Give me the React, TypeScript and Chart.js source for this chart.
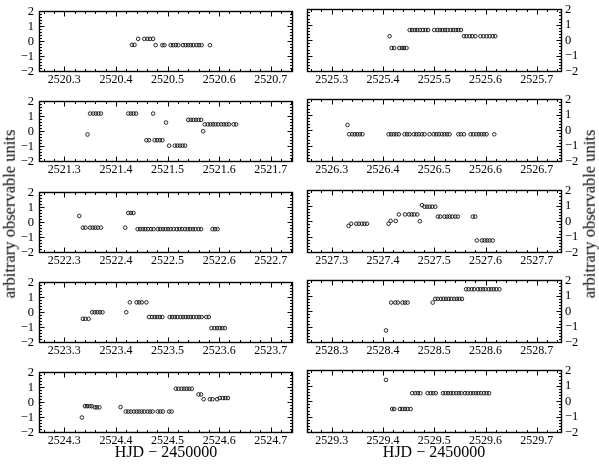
import React, { useEffect, useRef } from 'react';
import { Chart, registerables } from 'chart.js';

Chart.register(...registerables);

// ---------- data (HJD - 2450000, arbitrary units) ----------
const days = [2520, 2521, 2522, 2523, 2524, 2525, 2526, 2527, 2528, 2529];
const xTickOffsets = [0.3, 0.4, 0.5, 0.6, 0.7];
const yTickValues = [-2, -1, 0, 1, 2];
const xTitle = 'HJD \u2212 2450000';
const yTitle = 'arbitrary observable units';

const d2520X = [2520.431, 2520.436, 2520.443, 2520.455, 2520.461, 2520.466, 2520.472, 2520.477, 2520.490, 2520.494, 2520.506, 2520.511, 2520.516, 2520.521, 2520.530, 2520.535, 2520.540, 2520.545, 2520.550, 2520.556, 2520.561, 2520.566, 2520.582];
const d2520Y = [-0.24, -0.24, 0.16, 0.16, 0.16, 0.16, 0.16, -0.26, -0.26, -0.26, -0.26, -0.26, -0.26, -0.26, -0.26, -0.26, -0.26, -0.26, -0.26, -0.26, -0.26, -0.26, -0.26];

const d2521X = [2521.345, 2521.350, 2521.356, 2521.361, 2521.366, 2521.371, 2521.424, 2521.429, 2521.434, 2521.439, 2521.459, 2521.464, 2521.472, 2521.475, 2521.480, 2521.485, 2521.490, 2521.497, 2521.503, 2521.514, 2521.519, 2521.524, 2521.529, 2521.534, 2521.540, 2521.545, 2521.550, 2521.555, 2521.560, 2521.565, 2521.569, 2521.572, 2521.578, 2521.583, 2521.588, 2521.593, 2521.598, 2521.604, 2521.609, 2521.614, 2521.619, 2521.628, 2521.633];
const d2521Y = [-0.22, 1.18, 1.18, 1.18, 1.18, 1.18, 1.18, 1.18, 1.18, 1.18, -0.6, -0.6, 1.18, -0.6, -0.6, -0.6, -0.6, 0.58, -0.96, -0.96, -0.96, -0.96, -0.96, -0.96, 0.76, 0.76, 0.76, 0.76, 0.76, 0.76, 0.0, 0.46, 0.46, 0.46, 0.46, 0.46, 0.46, 0.46, 0.46, 0.46, 0.46, 0.46, 0.46];

const d2522X = [2522.329, 2522.336, 2522.341, 2522.350, 2522.355, 2522.360, 2522.365, 2522.371, 2522.418, 2522.424, 2522.429, 2522.434, 2522.442, 2522.447, 2522.452, 2522.457, 2522.462, 2522.468, 2522.473, 2522.481, 2522.486, 2522.491, 2522.496, 2522.501, 2522.506, 2522.512, 2522.518, 2522.523, 2522.528, 2522.534, 2522.539, 2522.544, 2522.549, 2522.554, 2522.560, 2522.565, 2522.587, 2522.592, 2522.597];
const d2522Y = [0.42, -0.36, -0.36, -0.36, -0.36, -0.36, -0.36, -0.36, -0.36, 0.62, 0.62, 0.62, -0.46, -0.46, -0.46, -0.46, -0.46, -0.46, -0.46, -0.46, -0.46, -0.46, -0.46, -0.46, -0.46, -0.46, -0.46, -0.46, -0.46, -0.46, -0.46, -0.46, -0.46, -0.46, -0.46, -0.46, -0.46, -0.46, -0.46];

const d2523X = [2523.336, 2523.341, 2523.347, 2523.354, 2523.359, 2523.364, 2523.369, 2523.374, 2523.420, 2523.427, 2523.440, 2523.445, 2523.450, 2523.459, 2523.464, 2523.470, 2523.475, 2523.480, 2523.485, 2523.490, 2523.504, 2523.509, 2523.514, 2523.519, 2523.525, 2523.530, 2523.535, 2523.540, 2523.545, 2523.550, 2523.556, 2523.561, 2523.566, 2523.575, 2523.580, 2523.585, 2523.591, 2523.596, 2523.601, 2523.606, 2523.611];
const d2523Y = [-0.44, -0.44, -0.44, 0, 0, 0, 0, 0, 0, 0.66, 0.66, 0.66, 0.66, 0.66, -0.32, -0.32, -0.32, -0.32, -0.32, -0.32, -0.32, -0.32, -0.32, -0.32, -0.32, -0.32, -0.32, -0.32, -0.32, -0.32, -0.32, -0.32, -0.32, -0.32, -0.32, -1.06, -1.06, -1.06, -1.06, -1.06, -1.06];

const d2524X = [2524.334, 2524.340, 2524.344, 2524.349, 2524.353, 2524.359, 2524.363, 2524.368, 2524.409, 2524.419, 2524.424, 2524.429, 2524.435, 2524.440, 2524.445, 2524.450, 2524.455, 2524.461, 2524.466, 2524.471, 2524.481, 2524.486, 2524.491, 2524.503, 2524.508, 2524.516, 2524.521, 2524.527, 2524.532, 2524.537, 2524.542, 2524.547, 2524.560, 2524.565, 2524.570, 2524.582, 2524.587, 2524.596, 2524.601, 2524.607, 2524.612, 2524.617];
const d2524Y = [-1.02, -0.26, -0.26, -0.26, -0.26, -0.34, -0.34, -0.34, -0.32, -0.62, -0.62, -0.62, -0.62, -0.62, -0.62, -0.62, -0.62, -0.62, -0.62, -0.62, -0.62, -0.62, -0.62, -0.62, -0.62, 0.9, 0.9, 0.9, 0.9, 0.9, 0.9, 0.9, 0.52, 0.52, 0.2, 0.2, 0.2, 0.2, 0.28, 0.28, 0.28, 0.28];

const d2525X = [2525.413, 2525.417, 2525.422, 2525.432, 2525.437, 2525.441, 2525.446, 2525.452, 2525.457, 2525.462, 2525.467, 2525.472, 2525.478, 2525.483, 2525.488, 2525.500, 2525.506, 2525.511, 2525.516, 2525.521, 2525.526, 2525.532, 2525.537, 2525.542, 2525.547, 2525.552, 2525.558, 2525.563, 2525.569, 2525.574, 2525.580, 2525.590, 2525.596, 2525.602, 2525.608, 2525.614, 2525.619];
const d2525Y = [0.26, -0.5, -0.5, -0.5, -0.5, -0.5, -0.5, 0.66, 0.66, 0.66, 0.66, 0.66, 0.66, 0.66, 0.66, 0.66, 0.66, 0.66, 0.66, 0.66, 0.66, 0.66, 0.66, 0.66, 0.66, 0.66, 0.26, 0.26, 0.26, 0.26, 0.26, 0.26, 0.26, 0.26, 0.26, 0.26, 0.26];

const d2526X = [2526.331, 2526.334, 2526.340, 2526.345, 2526.350, 2526.355, 2526.360, 2526.411, 2526.416, 2526.421, 2526.426, 2526.431, 2526.442, 2526.447, 2526.452, 2526.460, 2526.465, 2526.470, 2526.476, 2526.481, 2526.491, 2526.499, 2526.504, 2526.509, 2526.515, 2526.520, 2526.525, 2526.530, 2526.547, 2526.552, 2526.558, 2526.571, 2526.576, 2526.582, 2526.587, 2526.592, 2526.597, 2526.602, 2526.617];
const d2526Y = [0.34, -0.26, -0.26, -0.26, -0.26, -0.26, -0.26, -0.26, -0.26, -0.26, -0.26, -0.26, -0.26, -0.26, -0.26, -0.26, -0.26, -0.26, -0.26, -0.26, -0.26, -0.26, -0.26, -0.26, -0.26, -0.26, -0.26, -0.26, -0.26, -0.26, -0.26, -0.26, -0.26, -0.26, -0.26, -0.26, -0.26, -0.26, -0.26];

const d2527X = [2527.333, 2527.338, 2527.348, 2527.353, 2527.359, 2527.364, 2527.369, 2527.411, 2527.415, 2527.425, 2527.431, 2527.443, 2527.451, 2527.456, 2527.461, 2527.467, 2527.472, 2527.476, 2527.481, 2527.486, 2527.491, 2527.496, 2527.502, 2527.507, 2527.512, 2527.520, 2527.525, 2527.530, 2527.535, 2527.541, 2527.546, 2527.575, 2527.580, 2527.583, 2527.593, 2527.598, 2527.603, 2527.608, 2527.614];
const d2527Y = [-0.3, -0.16, -0.16, -0.16, -0.16, -0.16, -0.16, -0.16, 0.02, 0.02, 0.44, 0.44, 0.44, 0.44, 0.44, 0.44, 0.0, 1.04, 0.94, 0.94, 0.94, 0.94, 0.94, 0.3, 0.3, 0.3, 0.3, 0.3, 0.3, 0.3, 0.3, 0.3, 0.3, -1.24, -1.24, -1.24, -1.24, -1.24, -1.24];

const d2528X = [2528.406, 2528.416, 2528.424, 2528.429, 2528.438, 2528.443, 2528.448, 2528.497, 2528.502, 2528.507, 2528.513, 2528.518, 2528.523, 2528.528, 2528.533, 2528.539, 2528.544, 2528.549, 2528.554, 2528.562, 2528.567, 2528.573, 2528.578, 2528.585, 2528.590, 2528.595, 2528.600, 2528.606, 2528.611, 2528.616, 2528.621, 2528.627];
const d2528Y = [-1.24, 0.56, 0.56, 0.56, 0.56, 0.56, 0.56, 0.56, 0.8, 0.8, 0.8, 0.8, 0.8, 0.8, 0.8, 0.8, 0.8, 0.8, 0.8, 1.42, 1.42, 1.42, 1.42, 1.42, 1.42, 1.42, 1.42, 1.42, 1.42, 1.42, 1.42, 1.42];

const d2529X = [2529.406, 2529.418, 2529.422, 2529.433, 2529.438, 2529.443, 2529.448, 2529.454, 2529.457, 2529.463, 2529.468, 2529.473, 2529.487, 2529.493, 2529.498, 2529.503, 2529.517, 2529.522, 2529.527, 2529.532, 2529.537, 2529.543, 2529.548, 2529.553, 2529.560, 2529.565, 2529.571, 2529.576, 2529.581, 2529.586, 2529.591, 2529.597, 2529.602, 2529.607];
const d2529Y = [1.38, -0.5, -0.5, -0.5, -0.5, -0.5, -0.5, -0.5, 0.52, 0.52, 0.52, 0.52, 0.52, 0.52, 0.52, 0.52, 0.52, 0.52, 0.52, 0.52, 0.52, 0.52, 0.52, 0.52, 0.52, 0.52, 0.52, 0.52, 0.52, 0.52, 0.52, 0.52, 0.52, 0.52];

const seriesX = [d2520X, d2521X, d2522X, d2523X, d2524X, d2525X, d2526X, d2527X, d2528X, d2529X];
const seriesY = [d2520Y, d2521Y, d2522Y, d2523Y, d2524Y, d2525Y, d2526Y, d2527Y, d2528Y, d2529Y];

// ---------- layout ----------
const FONT = '"Liberation Serif", "Times New Roman", Times, serif';
const PANEL_TOPS = [4, 94, 184.5, 274.75, 365];
const PANEL_H = 68;
const PAD_TOP = 6;
const XAXIS_H = 16;
const CANVAS_H = PAD_TOP + PANEL_H + XAXIS_H;
// x-window (offset from day start) per column
const X_WIN = [
  [0.251, 0.743],
  [0.252, 0.749],
];

const framePlugin = {
  id: 'frameTicks',
  afterDatasetsDraw(chart: any) {
    const { ctx, chartArea: a, scales } = chart;
    const xs = scales.x;
    const ys = scales.y;
    ctx.save();
    ctx.strokeStyle = '#000';
    ctx.lineWidth = 1;
    const L = Math.round(a.left) + 0.5;
    const R = Math.round(a.right) - 0.5;
    const T = Math.round(a.top) + 0.5;
    const B = Math.round(a.bottom) - 0.5;
    ctx.beginPath();
    const k0 = Math.ceil(xs.min * 50 - 1e-6);
    const k1 = Math.floor(xs.max * 50 + 1e-6);
    for (let k = k0; k <= k1; k++) {
      const len = k % 5 === 0 ? 5 : 2.5;
      const px = Math.round(xs.getPixelForValue(k / 50)) + 0.5;
      ctx.moveTo(px, B);
      ctx.lineTo(px, B - len);
      ctx.moveTo(px, T);
      ctx.lineTo(px, T + len);
    }
    const j0 = Math.ceil(ys.min * 5 - 1e-6);
    const j1 = Math.floor(ys.max * 5 + 1e-6);
    for (let j = j0; j <= j1; j++) {
      const len = j % 5 === 0 ? 5 : 2.5;
      const py = Math.round(ys.getPixelForValue(j / 5)) + 0.5;
      ctx.moveTo(L, py);
      ctx.lineTo(L + len, py);
      ctx.moveTo(R, py);
      ctx.lineTo(R - len, py);
    }
    ctx.stroke();
    ctx.lineWidth = 1.4;
    ctx.strokeRect(L, T, R - L, B - T);
    ctx.restore();
  },
};

function fmtY(v: number) {
  return v < 0 ? '\u2212' + Math.abs(v) : String(v);
}

function Panel({ idx }: { idx: number }) {
  const ref = useRef<HTMLCanvasElement>(null);
  const col = idx < 5 ? 0 : 1;
  const row = idx % 5;
  const day = days[idx];
  const left = col === 0 ? 0 : 300;
  const width = col === 0 ? 300 : 299;
  const top = Math.round(PANEL_TOPS[row]) - PAD_TOP;

  useEffect(() => {
    const xs = seriesX[idx];
    const ysd = seriesY[idx];
    const chart = new Chart(ref.current as HTMLCanvasElement, {
      type: 'scatter',
      data: {
        datasets: [
          {
            data: xs.map((x, i) => ({ x, y: ysd[i] })),
            pointRadius: 1.8,
            pointBorderWidth: 0.9,
            borderColor: '#111',
            backgroundColor: 'rgba(0,0,0,0)',
            pointHoverRadius: 1.8,
            showLine: false,
          },
        ],
      },
      options: {
        animation: false,
        responsive: false,
        maintainAspectRatio: false,
        events: [],
        layout: {
          padding: { top: PAD_TOP, bottom: 0, left: col === 0 ? 0 : 7, right: col === 0 ? 7 : 0 },
        },
        plugins: { legend: { display: false }, tooltip: { enabled: false } },
        scales: {
          x: {
            type: 'linear',
            min: day + X_WIN[col][0],
            max: day + X_WIN[col][1],
            afterBuildTicks: (s: any) => {
              s.ticks = xTickOffsets.map((o) => ({ value: day + o }));
            },
            afterFit: (s: any) => {
              s.height = XAXIS_H;
            },
            ticks: {
              callback: (v: any) => Number(v).toFixed(1),
              font: { family: FONT, size: 12 },
              color: '#000',
              padding: 1,
              maxRotation: 0,
              autoSkip: false,
            },
            grid: { display: false, drawTicks: false },
            border: { display: false },
          },
          y: {
            type: 'linear',
            position: col === 0 ? 'left' : 'right',
            min: -2.05,
            max: 2.05,
            afterBuildTicks: (s: any) => {
              s.ticks = yTickValues.map((v) => ({ value: v }));
            },
            afterFit: (s: any) => {
              s.width = col === 0 ? 39 : 37;
            },
            ticks: {
              callback: (v: any) => fmtY(Number(v)),
              font: { family: FONT, size: 12.5 },
              color: '#000',
              padding: col === 0 ? 5 : 3,
              autoSkip: false,
            },
            grid: { display: false, drawTicks: false },
            border: { display: false },
          },
        },
      },
      plugins: [framePlugin],
    } as any);
    return () => chart.destroy();
  }, [idx]);

  return (
    <canvas
      ref={ref}
      width={width}
      height={CANVAS_H}
      style={{ position: 'absolute', left, top, width, height: CANVAS_H, display: 'block' }}
    />
  );
}

const textStyle: React.CSSProperties = {
  position: 'absolute',
  whiteSpace: 'nowrap',
  fontFamily: FONT,
  fontSize: 16,
  color: '#000',
  lineHeight: 1,
};

export default function App() {
  return (
    <div style={{ position: 'absolute', left: 0, top: 0, width: 599, height: 465, background: '#fff', overflow: 'hidden' }}>
      {days.map((_, i) => (
        <Panel key={i} idx={i} />
      ))}
      <div style={{ ...textStyle, left: 166, top: 452, transform: 'translate(-50%, -50%)' }}>{xTitle}</div>
      <div style={{ ...textStyle, left: 434, top: 452, transform: 'translate(-50%, -50%)' }}>{xTitle}</div>
      <div style={{ ...textStyle, fontSize: 16.5, left: 10, top: 214, transform: 'translate(-50%, -50%) rotate(-90deg)' }}>{yTitle}</div>
      <div style={{ ...textStyle, fontSize: 16.5, left: 590, top: 214, transform: 'translate(-50%, -50%) rotate(-90deg)' }}>{yTitle}</div>
    </div>
  );
}
